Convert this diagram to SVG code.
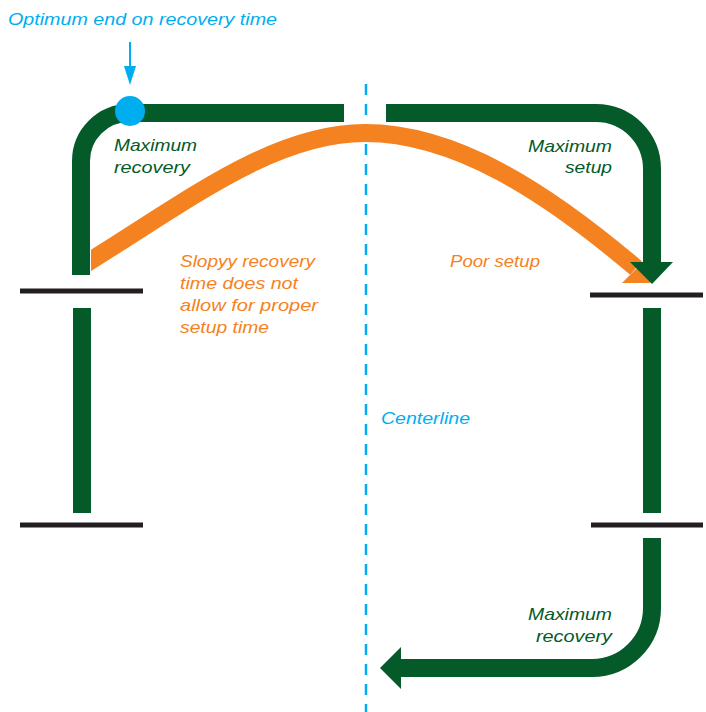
<svg xmlns="http://www.w3.org/2000/svg" width="706" height="712" viewBox="0 0 706 712">
<style>
text{font-family:"Liberation Sans",Arial,sans-serif;font-style:italic;font-size:17px}
.g{fill:#045a29}.o{fill:#f58220}.b{fill:#00aeef}
.gs{fill:none;stroke:#045a29;stroke-width:18}
.bar{stroke:#231f20;stroke-width:5}
</style>
<defs>
<clipPath id="clipO"><rect x="91" y="0" width="615" height="712"/></clipPath>
</defs>
<rect width="706" height="712" fill="#fff"/>
<g id="centerline">
<line x1="366" y1="84" x2="366" y2="712" stroke="#00aeef" stroke-width="2.5" stroke-dasharray="11,9"/>
</g>
<g id="bars">
<line class="bar" x1="20" y1="291" x2="143" y2="291"/>
<line class="bar" x1="20" y1="525" x2="143" y2="525"/>
<line class="bar" x1="590" y1="295" x2="703" y2="295"/>
<line class="bar" x1="591" y1="525" x2="703" y2="525"/>
<rect class="g" x="73" y="308" width="18" height="205"/>
<rect class="g" x="643" y="308" width="18" height="205"/>
</g>
<g id="connectors">
<g id="orange-arrow">
<path d="M77,269 L90,261 C190,199 275,133 365,133 C455,133 546,191.5 636,268" fill="none" stroke="#f58220" stroke-width="18" clip-path="url(#clipO)"/>
<polygon class="o" points="622,283 650,283 650,255"/>
</g>
<path class="gs" d="M81,275 V161 A48,48 0 0 1 129,113 H344"/>
<path class="gs" d="M386,113 H596 A56,56 0 0 1 652,169 V263"/>
<polygon class="g" points="630,262 673,262 652,284"/>
<path class="gs" d="M652,538 V608 A60,60 0 0 1 592,668 H400"/>
<polygon class="g" points="401,647 401,689 380,668"/>
<line x1="130" y1="42" x2="130" y2="68" stroke="#00aeef" stroke-width="2"/>
<polygon class="b" points="124,66 136,66 130,85"/>
</g>
<g id="optimum-point">
<circle class="b" cx="130" cy="111" r="15"/>
</g>
<g id="label-optimum"><text class="b" x="8" y="25" textLength="269" lengthAdjust="spacingAndGlyphs">Optimum end on recovery time</text></g>
<g id="label-max-recovery-top">
<text class="g" x="114" y="151" textLength="83" lengthAdjust="spacingAndGlyphs">Maximum</text>
<text class="g" x="114" y="173" textLength="76" lengthAdjust="spacingAndGlyphs">recovery</text>
</g>
<g id="label-max-setup">
<text class="g" x="528" y="152" textLength="84" lengthAdjust="spacingAndGlyphs">Maximum</text>
<text class="g" x="565" y="173" textLength="47" lengthAdjust="spacingAndGlyphs">setup</text>
</g>
<g id="label-sloppy">
<text class="o" x="180" y="267" textLength="135" lengthAdjust="spacingAndGlyphs">Slopyy recovery</text>
<text class="o" x="180" y="289" textLength="118" lengthAdjust="spacingAndGlyphs">time does not</text>
<text class="o" x="180" y="311" textLength="138" lengthAdjust="spacingAndGlyphs">allow for proper</text>
<text class="o" x="180" y="333" textLength="89" lengthAdjust="spacingAndGlyphs">setup time</text>
</g>
<g id="label-poor-setup"><text class="o" x="450" y="267" textLength="90" lengthAdjust="spacingAndGlyphs">Poor setup</text></g>
<g id="label-centerline"><text class="b" x="381" y="424" textLength="89" lengthAdjust="spacingAndGlyphs">Centerline</text></g>
<g id="label-max-recovery-bottom">
<text class="g" x="528" y="620" textLength="84" lengthAdjust="spacingAndGlyphs">Maximum</text>
<text class="g" x="536" y="642" textLength="76" lengthAdjust="spacingAndGlyphs">recovery</text>
</g>
</svg>
